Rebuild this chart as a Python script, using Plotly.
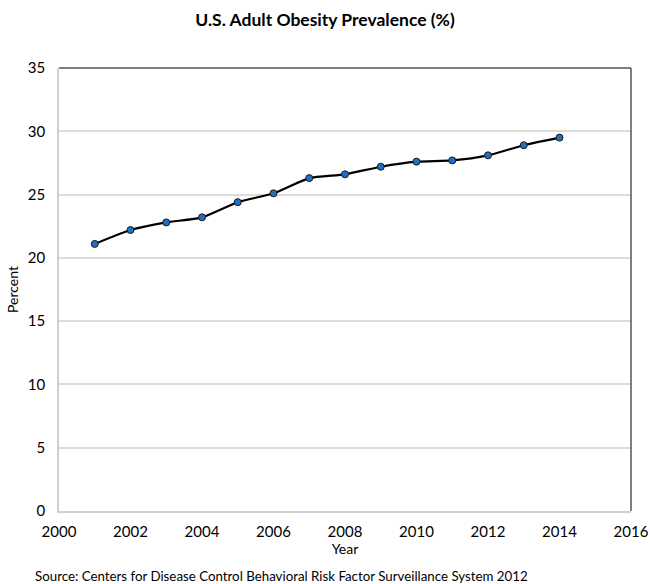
import plotly.graph_objects as go

years = [2001, 2002, 2003, 2004, 2005, 2006, 2007, 2008, 2009, 2010, 2011, 2012, 2013, 2014]
obesity_pct = [21.1, 22.2, 22.8, 23.2, 24.4, 25.1, 26.3, 26.6, 27.2, 27.6, 27.7, 28.1, 28.9, 29.5]

title_text = "U.S. Adult Obesity Prevalence (%)"
source_text = "Source: Centers for Disease Control Behavioral Risk Factor Surveillance System 2012"
FONT = "Lato, 'Open Sans', sans-serif"

fig = go.Figure()
fig.add_trace(go.Scatter(
    x=years, y=obesity_pct, mode="lines+markers",
    line=dict(color="#000000", width=2.2, shape="spline", smoothing=0.6),
    marker=dict(color="#1f6fc4", size=7, line=dict(color="#1a1a1a", width=1)),
    showlegend=False,
))

fig.update_layout(
    width=650, height=584,
    margin=dict(l=59, r=19, t=68, b=73, autoexpand=False),
    paper_bgcolor="white", plot_bgcolor="white",
    font=dict(family=FONT, color="#000000", size=15),
    title=dict(text="<b>" + title_text + "</b>", x=0.5, xanchor="center",
               y=1 - 20 / 584, yanchor="middle", font=dict(size=17.5, family=FONT)),
    xaxis=dict(range=[2000, 2016], tickmode="linear", tick0=2000, dtick=2,
               showgrid=False, zeroline=False, showline=True, linecolor="#d0d0d0", linewidth=1.5,
               ticks="outside", ticklen=6, tickcolor="rgba(0,0,0,0)", tickfont=dict(size=15),
               automargin=False,
               title=dict(text="Year", font=dict(size=14), standoff=2)),
    yaxis=dict(range=[0, 35], tickmode="linear", tick0=0, dtick=5,
               showgrid=True, gridcolor="#dcdcdc", gridwidth=1.5, zeroline=False,
               showline=True, linecolor="#d0d0d0", linewidth=1.5,
               ticks="outside", ticklen=9, tickcolor="rgba(0,0,0,0)", tickfont=dict(size=15),
               automargin=False,
               title=dict(text="Percent", font=dict(size=14), standoff=6)),
    shapes=[
        dict(type="line", xref="paper", yref="paper", x0=0, x1=1, y0=1, y1=1,
             line=dict(color="#555555", width=1.5)),
        dict(type="line", xref="paper", yref="paper", x0=1, x1=1, y0=0, y1=1,
             line=dict(color="#555555", width=1.5)),
    ],
    annotations=[
        dict(text=source_text, xref="paper", yref="paper", x=-26 / 572, y=-65 / 443,
             xanchor="left", yanchor="middle", showarrow=False, font=dict(size=13.3, family=FONT)),
    ],
)

fig.write_html("out.html")
